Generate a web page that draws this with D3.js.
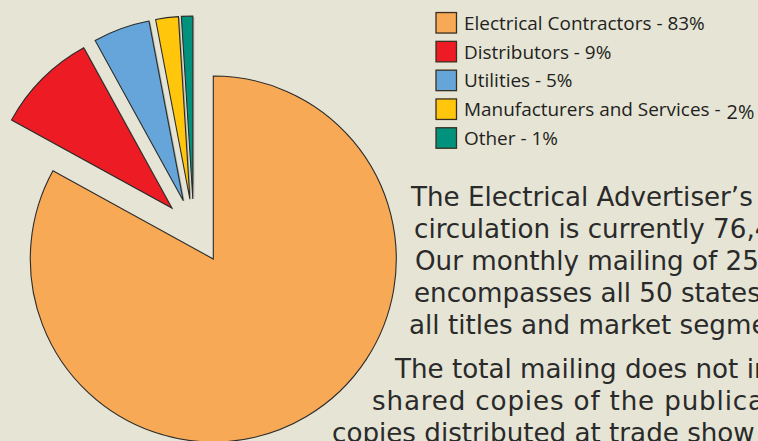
<!DOCTYPE html>
<html><head><meta charset="utf-8">
<script src="https://cdn.jsdelivr.net/npm/d3@7"></script>
<style>html,body{margin:0;padding:0;background:#E5E4D5;overflow:hidden}svg{display:block}</style>
</head><body><svg id="c" width="758" height="441"></svg>
<script>
// ---- data ----
const categories = ["Electrical Contractors", "Distributors", "Utilities", "Manufacturers and Services", "Other"];
const values = [83, 9, 5, 2, 1];
const colors = ["#F8A955", "#ED1C24", "#66A5D9", "#FFC60B", "#00927D"];
const bodyLinesTop = ["The Electrical Advertiser\u2019s", "circulation is currently 76,4", "Our monthly mailing of 25", "encompasses all 50 states", "all titles and market segme"];
const bodyLinesBottom = ["The total mailing does not in", "shared copies of the publica", "copies distributed at trade show"];

// ---- layout ----
const W = 758, H = 441;
const svg = d3.select("#c");
svg.append("rect").attr("width", W).attr("height", H).attr("fill", "#E5E4D5");

const cx = 213.3, cy = 259, R = 183;
const groupShift = {dx: -19.5, dy: -29}, explodeDist = 31;

const pieData = d3.pie().sort(null).value(d => d)(values);
const arc = d3.arc().innerRadius(0).outerRadius(R);

const g = svg.append("g").attr("transform", `translate(${cx},${cy})`);
pieData.forEach((p, i) => {
  let ox = 0, oy = 0;
  if (i > 0) {
    const m = (p.startAngle + p.endAngle) / 2;
    ox = groupShift.dx + explodeDist * Math.sin(m);
    oy = groupShift.dy - explodeDist * Math.cos(m);
    g.append("path").attr("d", arc(p))
      .attr("transform", `translate(${ox + 1.5},${oy + 1})`)
      .attr("fill", "#8a8a80").attr("opacity", 0.55);
  }
  g.append("path").attr("d", arc(p))
    .attr("transform", `translate(${ox},${oy})`)
    .attr("fill", colors[i])
    .attr("stroke", "#2b2b2b").attr("stroke-width", 1.1)
    .attr("stroke-linejoin", "miter");
});

// ---- legend ----
const legX = 436, legY0 = 22.8, legStep = 28.8, sw = 20.5;
const leg = svg.append("g");
const legFont = "'Open Sans', 'Noto Sans', sans-serif";
let legSize = 18;
const probe = leg.append("text").attr("font-family", legFont).attr("font-size", 100)
  .text(`${categories[0]} - ${values[0]}%`);
legSize = 241 / probe.node().getComputedTextLength() * 100;
probe.remove();

categories.forEach((c, i) => {
  const yc = legY0 + i * legStep;
  leg.append("rect").attr("x", legX).attr("y", yc - sw / 2).attr("width", sw).attr("height", sw)
    .attr("fill", colors[i]).attr("stroke", "#3a2f20").attr("stroke-width", 1.3);
  const t = leg.append("text").attr("x", 464).attr("y", yc + legSize * 0.37)
    .attr("font-family", legFont).attr("font-size", legSize).attr("fill", "#231f20");
  if (i === 3) {
    t.append("tspan").text(`${c} -`);
    t.append("tspan").attr("dx", 6).attr("dy", 2.5).attr("font-size", legSize * 1.05).text(`${values[i]}%`);
  } else {
    t.text(`${c} - ${values[i]}%`);
  }
});

// ---- body text ----
const bodyFont = "'DejaVu Sans', sans-serif";
const bprobe = svg.append("text").attr("font-family", bodyFont).attr("font-size", 100).text(bodyLinesTop[0]);
const bodySize = 342 / bprobe.node().getComputedTextLength() * 100;
bprobe.remove();

const topX = [411, 414, 415, 414, 409];
const topY = [206, 237.5, 269.5, 301.5, 333.5];
bodyLinesTop.forEach((s, i) => {
  svg.append("text").attr("x", topX[i]).attr("y", topY[i])
    .attr("font-family", bodyFont).attr("font-size", bodySize).attr("fill", "#2a2a2a").text(s);
});
const botX = [395, 372, 332];
const botY = [378, 410, 442];
const botLen = [null, 392, null];
bodyLinesBottom.forEach((s, i) => {
  const t = svg.append("text").attr("x", botX[i]).attr("y", botY[i])
    .attr("font-family", bodyFont).attr("font-size", bodySize).attr("fill", "#2a2a2a").text(s);
  if (botLen[i]) t.attr("textLength", botLen[i]).attr("lengthAdjust", "spacing");
});
</script></body></html>
